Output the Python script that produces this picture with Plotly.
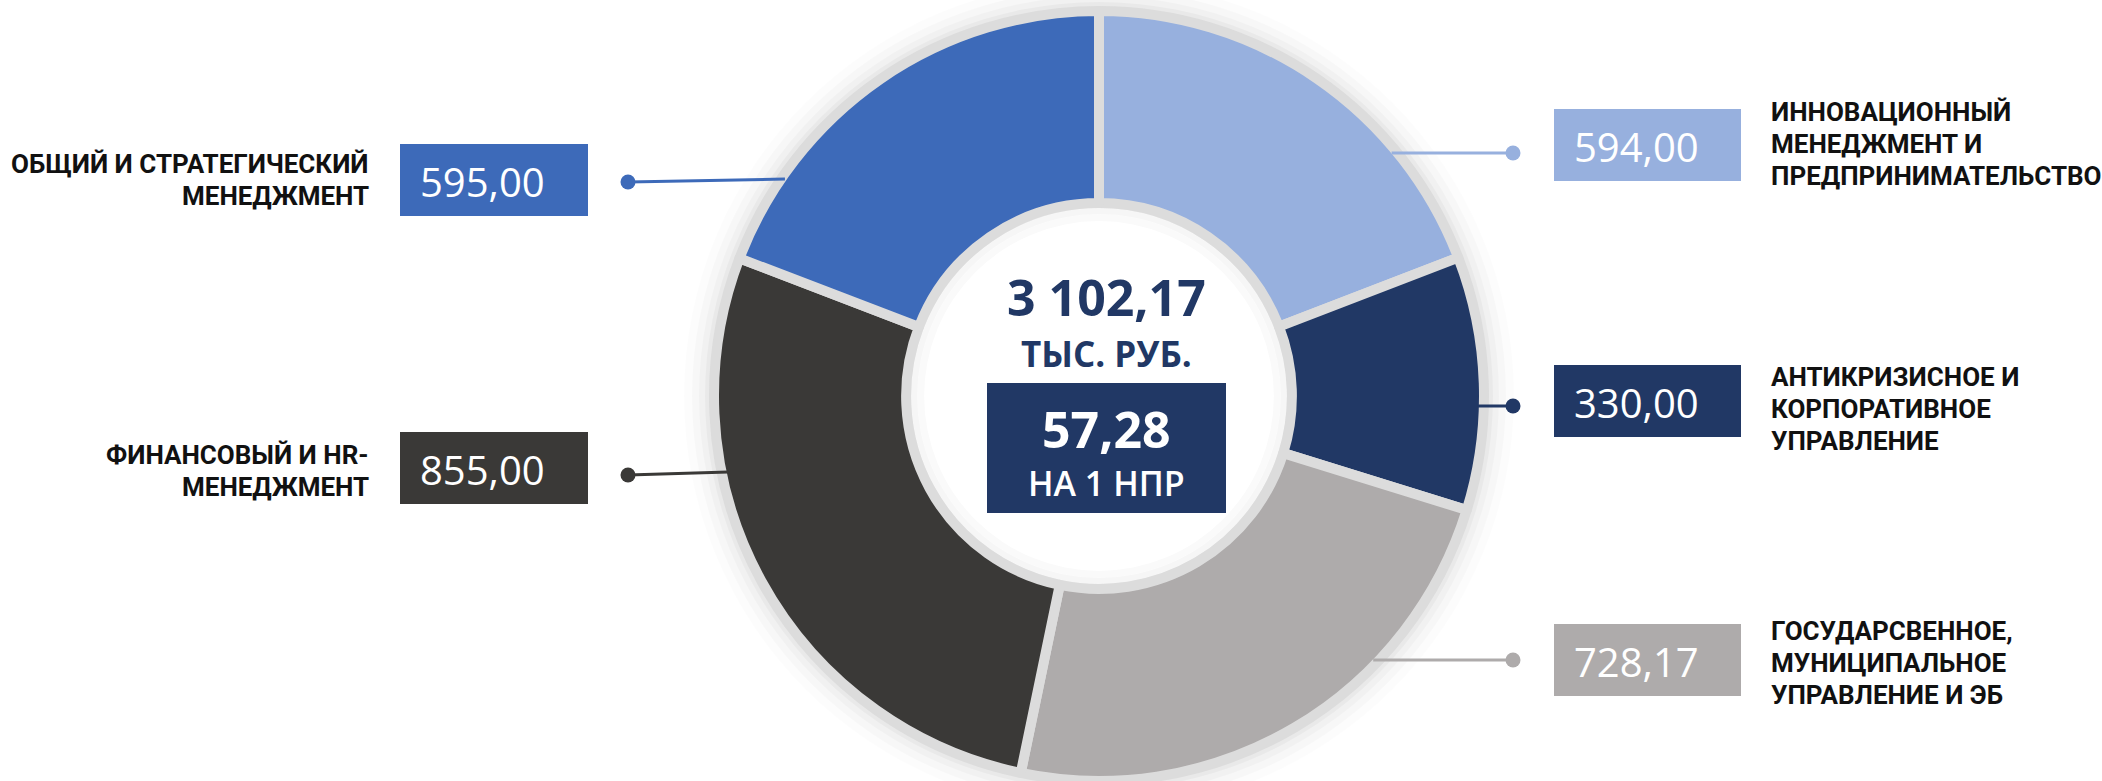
import math
import plotly.graph_objects as go

# ---------------- data ----------------
categories = [
    "ИННОВАЦИОННЫЙ<br>МЕНЕДЖМЕНТ И<br>ПРЕДПРИНИМАТЕЛЬСТВО",
    "АНТИКРИЗИСНОЕ И<br>КОРПОРАТИВНОЕ<br>УПРАВЛЕНИЕ",
    "ГОСУДАРСВЕННОЕ,<br>МУНИЦИПАЛЬНОЕ<br>УПРАВЛЕНИЕ И ЭБ",
    "ФИНАНСОВЫЙ И HR-<br>МЕНЕДЖМЕНТ",
    "ОБЩИЙ И СТРАТЕГИЧЕСКИЙ<br>МЕНЕДЖМЕНТ",
]
values = [594.00, 330.00, 728.17, 855.00, 595.00]
per_npr = 57.28
total_unit = "ТЫС. РУБ."
per_unit = "НА 1 НПР"

colors = ["#97B0DE", "#213865", "#AEABAB", "#3A3937", "#3D6AB9"]

# ---------------- layout (pixels) ----------------
W, H = 2102, 781
cx, cy, R = 1099, 396, 385
SEP = 10
HOLE = 0.501

side = ["right", "right", "right", "left", "left"]
label_y = [143.5, 408.5, 662.5, 471, 179.5]
box_y = [145, 401, 660, 468, 180]
dot_y = [153, 406, 660, 475, 182]
left_box_x = (400, 588)
right_box_x = (1554, 1741)
box_h = 72
left_dot_x = 628
right_dot_x = 1513
left_label_x = 371
right_label_x = 1769
line_gap = 32


def fmt(v):
    s = f"{v:,.2f}"
    s = s.replace(",", " ").replace(".", ",")
    return s


def dom(r):
    return dict(x=[(cx - r) / W, (cx + r) / W],
                y=[max((H - cy - r) / H, 0), min((H - cy + r) / H, 1)])


fig = go.Figure()

fig.add_trace(go.Pie(
    values=values, labels=[c.replace("<br>", " ") for c in categories],
    hole=HOLE, domain=dom(R), sort=False, direction="clockwise", rotation=0,
    marker=dict(colors=colors, line=dict(color="#DCDCDC", width=SEP)),
    textinfo="none", hoverinfo="label+value", showlegend=False,
))

# hidden pixel axes for decorations
fig.update_xaxes(range=[0, W], visible=False, fixedrange=True)
fig.update_yaxes(range=[H, 0], visible=False, fixedrange=True)
fig.add_trace(go.Scatter(x=[0, W], y=[0, H], mode="markers",
                         marker=dict(opacity=0), hoverinfo="skip", showlegend=False))

shapes = []
annotations = []


def disk(r, color):
    return dict(type="circle", xref="x", yref="y", x0=cx - r, x1=cx + r,
                y0=cy - r, y1=cy + r, fillcolor=color, line=dict(width=0), layer="below")


r_in = HOLE * R
shapes += [
    disk(R + 30, "rgba(0,0,0,0.012)"),
    disk(R + 22, "rgba(0,0,0,0.02)"),
    disk(R + 15, "rgba(0,0,0,0.025)"),
    disk(R + 9, "rgba(0,0,0,0.03)"),
    disk(R + 4, "rgba(0,0,0,0.035)"),
    disk(r_in, "white"),
    disk(r_in, "rgba(0,0,0,0.055)"),
    disk(r_in - 5, "white"),
    disk(r_in - 5, "rgba(0,0,0,0.035)"),
    disk(r_in - 11, "white"),
    disk(r_in - 11, "rgba(0,0,0,0.018)"),
    disk(r_in - 18, "white"),
]

for i, cat in enumerate(categories):
    col = colors[i]
    dy = dot_y[i] - cy
    dx = math.sqrt(max(R * R - dy * dy, 0))
    if side[i] == "left":
        bx0, bx1 = left_box_x
        dotx = left_dot_x
        edge_x = cx - dx + 6
        lx, anchor = left_label_x, "right"
    else:
        bx0, bx1 = right_box_x
        dotx = right_dot_x
        edge_x = cx + dx - 6
        lx, anchor = right_label_x, "left"
    # connector
    shapes.append(dict(type="line", xref="x", yref="y", x0=dotx, y0=dot_y[i],
                       x1=edge_x, y1=dot_y[i] - (3 if side[i] == "left" else 0),
                       line=dict(color=col, width=3), layer="above"))
    shapes.append(dict(type="circle", xref="x", yref="y", x0=dotx - 7.5, x1=dotx + 7.5,
                       y0=dot_y[i] - 7.5, y1=dot_y[i] + 7.5,
                       fillcolor=col, line=dict(width=0), layer="above"))
    # value box
    shapes.append(dict(type="rect", xref="x", yref="y", x0=bx0, x1=bx1,
                       y0=box_y[i] - box_h / 2, y1=box_y[i] + box_h / 2,
                       fillcolor=col, line=dict(width=0), layer="above"))
    annotations.append(dict(x=bx0 + 18, y=box_y[i] + 1, xref="x", yref="y",
                            text=fmt(values[i]), showarrow=False,
                            font=dict(family="Open Sans", size=40, color="white"),
                            xanchor="left", yanchor="middle"))
    lines = cat.split("<br>")
    n = len(lines)
    for k, ln in enumerate(lines):
        yy = label_y[i] + (k - (n - 1) / 2) * line_gap
        annotations.append(dict(x=lx, y=yy, xref="x", yref="y", text=ln,
                                showarrow=False, xanchor=anchor, yanchor="middle",
                                font=dict(family="Roboto", size=26,
                                          color="#111111", weight="bold")))

# center
navy = "#213865"
shapes.append(dict(type="rect", xref="x", yref="y", x0=987, x1=1226, y0=383, y1=513,
                   fillcolor=navy, line=dict(width=0), layer="above"))
annotations += [
    dict(x=1106, y=297, xref="x", yref="y", text=fmt(sum(values)), showarrow=False,
         font=dict(family="Open Sans", size=50, color=navy, weight="bold"),
         xanchor="center", yanchor="middle"),
    dict(x=1106, y=353, xref="x", yref="y", text=total_unit, showarrow=False,
         font=dict(family="Open Sans", size=35, color=navy, weight="bold"),
         xanchor="center", yanchor="middle"),
    dict(x=1106, y=429, xref="x", yref="y", text=fmt(per_npr), showarrow=False,
         font=dict(family="Open Sans", size=50, color="white", weight="bold"),
         xanchor="center", yanchor="middle"),
    dict(x=1106, y=483, xref="x", yref="y", text=per_unit, showarrow=False,
         font=dict(family="Open Sans", size=34, color="white", weight=600),
         xanchor="center", yanchor="middle"),
]

fig.update_layout(
    width=W, height=H, margin=dict(l=0, r=0, t=0, b=0),
    paper_bgcolor="white", plot_bgcolor="rgba(0,0,0,0)",
    shapes=shapes, annotations=annotations,
)

fig.write_html("out.html", config={"displayModeBar": False},
               post_script="document.body.style.margin='0';document.body.style.overflow='hidden';")
